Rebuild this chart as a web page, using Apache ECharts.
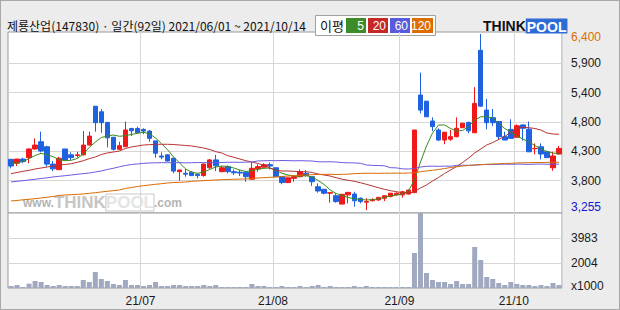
<!DOCTYPE html>
<html><head><meta charset="utf-8">
<script src="https://cdn.jsdelivr.net/npm/echarts@6/dist/echarts.min.js"></script>
<style>
html,body{margin:0;padding:0;background:#ececec;}
#c{width:620px;height:310px;}
#frame{position:absolute;left:0;top:0;width:618px;height:308px;border:1px solid #a9a9a9;pointer-events:none;}
</style></head><body>
<div id="c"></div><div id="frame"></div>
<script>
const titleText = '제룡산업(147830) · 일간(92일) 2021/06/01 ~ 2021/10/14';
const dates = [
'2021-06-01','2021-06-02','2021-06-03','2021-06-04','2021-06-07','2021-06-08','2021-06-09','2021-06-10','2021-06-11','2021-06-14',
'2021-06-15','2021-06-16','2021-06-17','2021-06-18','2021-06-21','2021-06-22','2021-06-23','2021-06-24','2021-06-25','2021-06-28',
'2021-06-29','2021-06-30',
'2021-07-01','2021-07-02','2021-07-05','2021-07-06','2021-07-07','2021-07-08','2021-07-09','2021-07-12','2021-07-13','2021-07-14',
'2021-07-15','2021-07-16','2021-07-19','2021-07-20','2021-07-21','2021-07-22','2021-07-23','2021-07-26','2021-07-27','2021-07-28',
'2021-07-29','2021-07-30',
'2021-08-02','2021-08-03','2021-08-04','2021-08-05','2021-08-06','2021-08-09','2021-08-10','2021-08-11','2021-08-12','2021-08-13',
'2021-08-17','2021-08-18','2021-08-19','2021-08-20','2021-08-23','2021-08-24','2021-08-25','2021-08-26','2021-08-27','2021-08-30',
'2021-08-31',
'2021-09-01','2021-09-02','2021-09-03','2021-09-06','2021-09-07','2021-09-08','2021-09-09','2021-09-10','2021-09-13','2021-09-14',
'2021-09-15','2021-09-16','2021-09-17','2021-09-23','2021-09-24','2021-09-27','2021-09-28','2021-09-29','2021-09-30',
'2021-10-01','2021-10-05','2021-10-06','2021-10-07','2021-10-08','2021-10-12','2021-10-13','2021-10-14'
];
const openP = [4160,4090,4165,4190,4345,4475,4385,4075,3975,4345,
4240,4230,4240,4415,5110,5010,4820,4555,4340,4385,
4710,4710,4695,4665,4490,4220,4240,4180,3940,3910,
3930,3895,3870,4010,4150,3940,4030,3940,3930,3930,
3805,3990,4020,4065,4010,3850,3745,3820,3850,3910,
3850,3670,3625,3555,3510,3360,3525,3540,3465,3395,
3420,3435,3465,3495,3525,3525,3540,3565,5310,5200,
4845,4685,4505,4520,4565,4725,4820,4635,6110,5040,
4905,4835,4565,4695,4555,4775,4700,4350,4385,4295,
4010,4255];
const closeP = [4040,4165,4120,4345,4415,4310,4075,3990,4180,4150,
4190,4240,4415,4575,4815,4815,4545,4340,4405,4685,
4670,4635,4665,4535,4270,4200,4130,3950,3970,3895,
3870,3870,4075,4150,4045,4010,3940,3920,3915,3850,
4000,4030,4065,4040,3850,3745,3830,3850,3940,3870,
3760,3595,3555,3565,3405,3535,3570,3420,3405,3405,
3440,3480,3510,3555,3555,3580,3610,4685,5040,4920,
4745,4505,4645,4565,4715,4805,4670,5160,5110,4815,
4815,4565,4505,4535,4760,4715,4295,4355,4255,4190,
4220,4355];
const lowP = [4000,4040,4090,4090,4330,4285,4030,3950,3975,4130,
4145,4190,4230,4415,4655,4635,4375,4315,4330,4380,
4575,4625,4610,4475,4190,4160,4120,3910,3775,3850,
3860,3820,3850,3990,3950,3930,3910,3880,3860,3760,
3790,3940,4020,3980,3850,3715,3735,3760,3840,3850,
3685,3565,3535,3385,3385,3360,3375,3315,3375,3255,
3410,3415,3415,3480,3510,3475,3530,3565,4980,4920,
4665,4490,4430,4490,4555,4720,4625,4635,5100,4695,
4755,4505,4500,4530,4550,4495,4290,4250,4160,4185,
3955,4250];
const highP = [4160,4170,4190,4355,4535,4655,4405,4130,4205,4345,
4285,4295,4665,4655,5110,5060,4830,4555,4475,4835,
4725,4745,4715,4685,4490,4285,4250,4190,3970,3990,
3945,3905,4090,4165,4240,4040,4050,3980,3970,3950,
4105,4070,4090,4100,4010,3850,3830,3860,3980,3970,
3850,3730,3630,3565,3555,3540,3570,3580,3480,3465,
3465,3490,3510,3560,3570,3595,3620,4685,5710,5200,
4910,4715,4650,4685,4910,4810,4835,5450,6400,5240,
5060,4840,4655,4875,4785,4780,4835,4445,4445,4315,
4295,4400];
// volume, thousands of shares
const volume = [183,263,104,368,579,500,263,183,263,183,
183,183,659,500,1292,738,579,342,263,659,
263,263,183,263,500,183,183,263,263,183,
183,183,263,183,263,104,104,104,104,104,
342,183,183,104,104,183,104,104,183,104,
183,263,104,183,104,104,104,183,104,183,
104,104,104,104,104,104,104,2797,5962,1213,
659,500,500,342,579,342,342,3272,2243,896,
738,421,263,500,342,263,263,183,263,183,
421,263];
const ma5 = [4089,4095,4122,4172,4229,4268,4238,4207,4154,4136,
4143,4175,4256,4372,4470,4550,4577,4595,4572,4583,
4604,4626,4643,4618,4541,4440,4332,4202,4095,3988,
3929,3911,3934,3979,4023,4041,4032,4005,3970,3943,
3957,3982,4000,4005,3961,3911,3880,3862,3862,3868,
3845,3782,3711,3612,3550,3514,3478,3457,3443,3434,
3439,3451,3482,3505,3523,3541,3594,3791,4113,4399,
4631,4774,4774,4711,4667,4675,4747,4863,4922,4920,
4899,4801,4711,4649,4577,4524,4470,4408,4345,4297,
4274,4256];
const ma20 = [3904,3925,3946,3964,3988,4005,4023,4041,4059,4068,
4082,4107,4136,4172,4202,4247,4274,4291,4309,4354,
4381,4399,4416,4422,4429,4429,4429,4425,4416,4408,
4399,4381,4363,4336,4297,4274,4225,4197,4166,4136,
4113,4086,4054,4005,3964,3952,3952,3946,3939,3939,
3925,3898,3880,3862,3832,3804,3786,3768,3743,3714,
3684,3653,3625,3600,3582,3564,3550,3585,3648,3702,
3773,3836,3907,3970,4032,4104,4184,4274,4345,4416,
4461,4515,4572,4640,4708,4733,4726,4711,4684,4631,
4613,4608];
const ma60 = [3755,3768,3779,3791,3804,3818,3830,3845,3857,3868,
3880,3893,3904,3916,3934,3952,3979,4000,4027,4050,
4068,4077,4089,4095,4098,4101,4099,4102,4100,4097,
4099,4103,4101,4098,4100,4104,4107,4109,4106,4110,
4112,4131,4135,4138,4136,4139,4137,4134,4136,4133,
4130,4118,4115,4117,4112,4102,4098,4096,4090,4060,
4052,4049,4045,4011,4008,3990,3986,4000,4023,4036,
4038,4035,4039,4037,4052,4055,4053,4058,4066,4069,
4067,4071,4074,4072,4075,4073,4070,4074,4076,4072,
4075,4073];
const ma120 = [3416,3425,3437,3446,3457,3469,3482,3496,3514,3523,
3528,3535,3541,3553,3564,3577,3589,3600,3612,3639,
3657,3675,3689,3702,3714,3725,3737,3746,3750,3755,
3768,3773,3779,3786,3791,3796,3800,3804,3807,3809,
3818,3827,3832,3839,3845,3854,3862,3868,3875,3880,
3886,3889,3891,3893,3889,3892,3895,3905,3909,3911,
3912,3910,3913,3911,3914,3912,3915,3921,3939,3952,
3964,3979,3996,4014,4029,4041,4050,4059,4064,4071,
4077,4080,4086,4089,4095,4098,4100,4102,4104,4105,
4107,4107];
const priceTickValues = [6400, 5875.8, 5351.7, 4827.5, 4303.3, 3779.2, 3255];
const priceTickLabels = ['6,400','5,900','5,400','4,800','4,300','3,800','3,255'];
const volTickValues = [3983, 2004, 25];
const volTickLabels = ['3983','2004','x1000'];
const maNames = ['5','20','60','120'];
const maColorsBox = ['#3c8c28','#c62828','#5a5adc','#dc6e00'];
const maColorsLine = ['#3a8a1c','#b83232','#6a5ae0','#d86a00'];

const monthStart = new Set();
for (let i = 1; i < dates.length; i++) if (dates[i].slice(0,7) !== dates[i-1].slice(0,7)) monthStart.add(i);
const candles = dates.map((d,i)=>[openP[i], closeP[i], lowP[i], highP[i]]);
const LF = 'Liberation Sans, Arial, sans-serif';
const KF = '"Noto Sans CJK KR", sans-serif';

const chart = echarts.init(document.getElementById('c'), null, {renderer:'svg'});

const legendEls = [
  {type:'rect', shape:{x:315.5, y:15.5, width:120, height:20}, style:{fill:'#fff', stroke:'#a0a0a0', lineWidth:1}},
  {type:'text', x:320, y:25.5, style:{text:'이평', fill:'#111', font:'13px '+KF, textVerticalAlign:'middle', verticalAlign:'middle'}}
];
const boxX = [346, 368, 390, 412], boxW = [20, 20, 20, 21];
maNames.forEach((n,k)=>{
  legendEls.push({type:'rect', shape:{x:boxX[k], y:18, width:boxW[k], height:15}, style:{fill:maColorsBox[k]}});
  legendEls.push({type:'text', x:boxX[k]+boxW[k]-2, y:26, style:{text:n, fill:'#fff', font:'12px '+LF, textAlign:'right', align:'right', textVerticalAlign:'middle', verticalAlign:'middle'}});
});

const option = {
  animation:false,
  backgroundColor:'#ececec',
  grid:[
    {left:8, right:58, top:32, height:181, show:true, backgroundColor:'#fff', borderColor:'#9a9a9a', borderWidth:1},
    {left:8, right:58, top:213, height:75, show:true, backgroundColor:'#fff', borderColor:'#9a9a9a', borderWidth:1}
  ],
  xAxis:[
    {type:'category', gridIndex:0, data:dates, boundaryGap:true,
     axisLine:{show:false}, axisTick:{show:false}, axisLabel:{show:false},
     splitLine:{show:true, interval:(i)=>monthStart.has(i), lineStyle:{color:'#d6d6d6', width:1}}},
    {type:'category', gridIndex:1, data:dates, boundaryGap:true,
     axisLine:{show:false}, axisTick:{show:false},
     axisLabel:{show:true, interval:(i)=>monthStart.has(i), formatter:(v)=>v.slice(2,4)+'/'+v.slice(5,7),
       color:'#1a1a1a', fontSize:12, fontFamily:LF, margin:7, padding:[0,6,0,0]},
     splitLine:{show:true, interval:(i)=>monthStart.has(i), lineStyle:{color:'#d6d6d6', width:1}}}
  ],
  yAxis:[
    {type:'value', gridIndex:0, position:'right', min:3201, max:6436, scale:true,
     axisLine:{show:false},
     axisTick:{show:false, customValues:priceTickValues.slice(1,-1)},
     splitLine:{show:true, lineStyle:{color:'#d6d6d6', width:1}},
     axisLabel:{customValues:priceTickValues, margin:9, color:'#1a1a1a', fontSize:12, fontFamily:LF,
       formatter:(v)=>{
         const k = priceTickValues.findIndex(t=>Math.abs(t-v)<0.5);
         const s = priceTickLabels[k];
         if (k===0) return '{mx|'+s+'}';
         if (k===priceTickValues.length-1) return '{mn|'+s+'}';
         return s;
       },
       rich:{
         mx:{color:'#dc6e00', fontSize:12, fontFamily:LF, padding:[6,0,0,0]},
         mn:{color:'#1414d2', fontSize:12, fontFamily:LF, padding:[0,0,6,0]}
       }}},
    {type:'value', gridIndex:1, position:'right', min:25, max:5962, scale:true,
     axisLine:{show:false},
     axisTick:{show:false, customValues:volTickValues.slice(0,2)},
     splitLine:{show:true, lineStyle:{color:'#d6d6d6', width:1}},
     axisLabel:{customValues:volTickValues, margin:9, color:'#1a1a1a', fontSize:12, fontFamily:LF,
       formatter:(v)=>{
         const k = volTickValues.findIndex(t=>Math.abs(t-v)<0.5);
         const s = volTickLabels[k];
         if (k===volTickValues.length-1) return '{xk|'+s+'}';
         return s;
       },
       rich:{xk:{color:'#1a1a1a', fontSize:12, fontFamily:LF, padding:[0,0,4,0]}}}}
  ],
  series:[
    {type:'candlestick', name:'price', xAxisIndex:0, yAxisIndex:0, data:candles, barWidth:5, z:2,
     itemStyle:{color:'#f01818', color0:'#1f62e0', borderColor:'#f01818', borderColor0:'#1f62e0', borderWidth:1}},
    {type:'line', name:'MA5', xAxisIndex:0, yAxisIndex:0, data:ma5, symbol:'none', showSymbol:false, z:3, lineStyle:{width:1, color:maColorsLine[0]}},
    {type:'line', name:'MA20', xAxisIndex:0, yAxisIndex:0, data:ma20, symbol:'none', showSymbol:false, z:3, lineStyle:{width:1, color:maColorsLine[1]}},
    {type:'line', name:'MA60', xAxisIndex:0, yAxisIndex:0, data:ma60, symbol:'none', showSymbol:false, z:3, lineStyle:{width:1, color:maColorsLine[2]}},
    {type:'line', name:'MA120', xAxisIndex:0, yAxisIndex:0, data:ma120, symbol:'none', showSymbol:false, z:3, lineStyle:{width:1, color:maColorsLine[3]}},
    {type:'bar', name:'volume', xAxisIndex:1, yAxisIndex:1, data:volume, barWidth:5, z:2, itemStyle:{color:'#a0a9bf'}}
  ],
  graphic:[
    {type:'text', x:7, y:25, z:5, style:{text:titleText, fill:'#111', font:'12px '+KF, textVerticalAlign:'middle', verticalAlign:'middle'}},
    {type:'group', z:5, children:legendEls},
    {type:'text', x:483, y:26, z:5, style:{text:'{k|THINK}{p|POOL}', textVerticalAlign:'middle', verticalAlign:'middle',
      rich:{k:{fill:'#111', color:'#111', font:'bold 14px '+LF}, p:{fill:'#fff', color:'#fff', font:'bold 14px '+LF, backgroundColor:'#2e6bd6', padding:[1,1,0,1]}}}},
    {type:'text', x:23, y:211, z:1, silent:true, style:{text:'{w|www.}{t|THINK}{p|POOL}{c|.com}', textVerticalAlign:'bottom', verticalAlign:'bottom',
      rich:{
        w:{fill:'#b4b4b4', color:'#b4b4b4', font:'bold 12px '+LF},
        t:{fill:'#c6c6c6', color:'#c6c6c6', font:'bold 17px '+LF},
        p:{fill:'#e4e4e4', color:'#e4e4e4', font:'bold 17px '+LF, stroke:'#c8c8c8', textBorderColor:'#c8c8c8', textBorderWidth:1},
        c:{fill:'#b4b4b4', color:'#b4b4b4', font:'bold 12px '+LF}
      }}}
  ]
};
chart.setOption(option);
</script>
</body></html>
